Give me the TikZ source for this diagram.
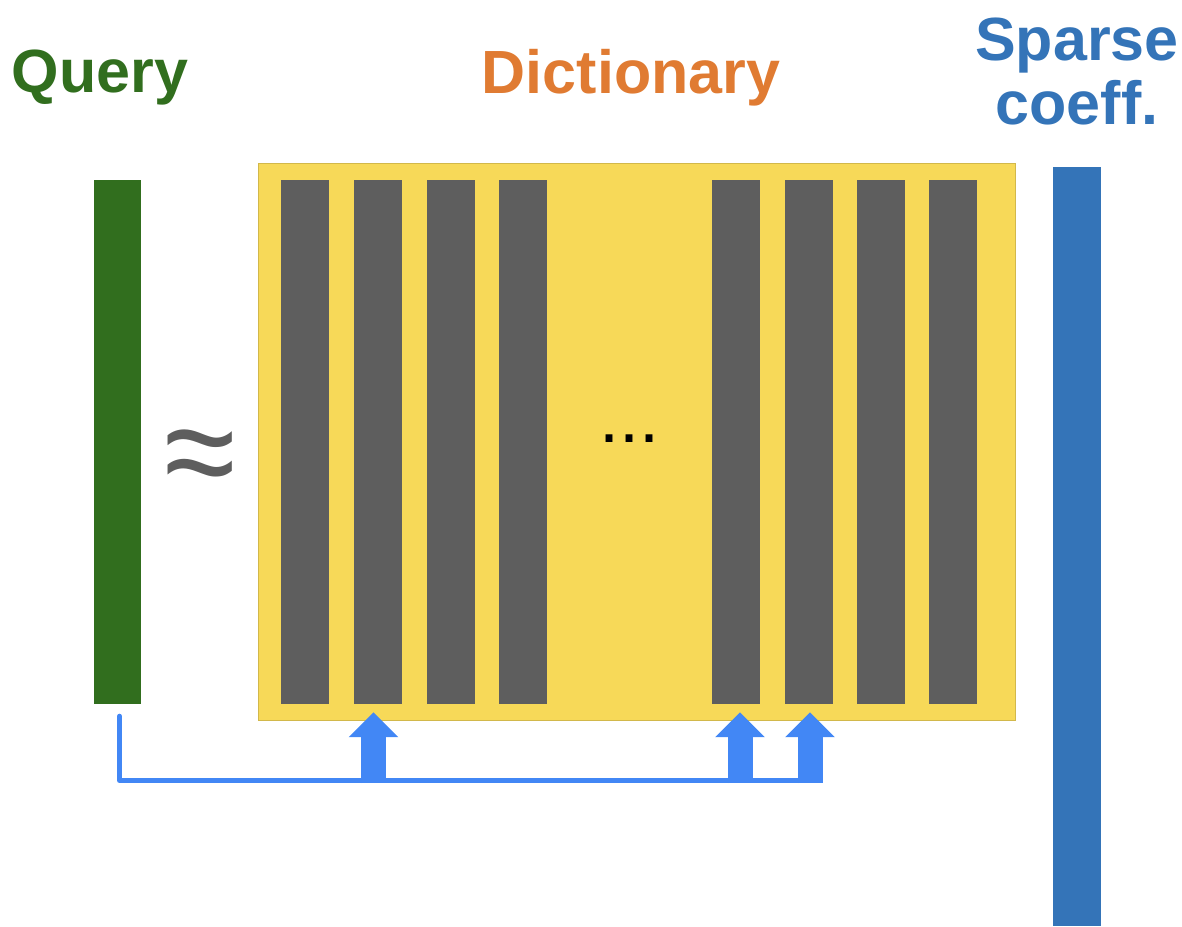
\documentclass[tikz,border=0pt]{standalone}
\usepackage{fontspec}
\setmainfont{Liberation Sans}
\usetikzlibrary{arrows.meta}

\definecolor{querygreen}{HTML}{316E1E}
\definecolor{dictorange}{HTML}{E07B32}
\definecolor{coeffblue}{HTML}{3474B8}
\definecolor{dictyellow}{HTML}{F7D958}
\definecolor{atomgray}{HTML}{5E5E5E}
\definecolor{linkblue}{HTML}{4287F5}

\tikzset{
  title/.style={font=\fontsize{61}{64}\selectfont\bfseries, inner sep=0pt},
  bar/.style={rectangle, inner sep=0pt, draw=none, minimum width=48pt},
  atom/.style={bar, fill=atomgray, minimum height=524pt},
  link/.style={draw=linkblue, line width=5pt, line cap=round, line join=round},
  pick/.style={draw=linkblue, line width=25pt, line cap=butt,
    -{Triangle[width=48pt,length=25pt]}},
}

\begin{document}
\begin{tikzpicture}[x=1pt,y=-1pt]
\useasboundingbox (0,0) rectangle (1182,926);

% titles
\node[title, text=querygreen, anchor=base] (tq) at (100,92) {Query};
\node[title, text=dictorange, anchor=base] (td) at (631,93) {Dictionary};
\node[title, text=coeffblue, anchor=north, align=center] (tc) at (1077,18) {Sparse\\coeff.};

% query vector
\node[bar, fill=querygreen, minimum width=47pt, minimum height=524pt] (q) at (117.5,442) {};

% approximately equal sign
\node[text=atomgray, inner sep=0pt, font=\fontsize{130}{130}\selectfont, yscale=1.1] (approx) at (200,465) {≈};

% dictionary matrix with its atoms
\node[bar, fill=dictyellow, draw=dictyellow!85!black, line width=0.5pt,
      minimum width=757pt, minimum height=557pt] (D) at (636.5,441.5) {};
\foreach \name/\x in {c1/305, c2/377.5, c3/450.5, c4/523, c5/736, c6/808.5, c7/881, c8/953}
  \node[atom] (\name) at (\x,442) {};
\node[inner sep=0pt, font=\fontsize{72}{72}\selectfont] (dots) at (629,439) {...};

% sparse coefficient vector
\node[bar, fill=coeffblue, minimum height=759pt] (s) at (1077,546.5) {};

% selection of atoms by the query
\coordinate (start) at ([xshift=2pt,yshift=-12pt]q.south);
\coordinate (base) at (0,780.5);
\draw[link] (start) |- ([xshift=1.5pt]c6.south |- base);
\draw[pick] ([xshift=-4pt]c2.south |- 0,783) -- ([xshift=-4pt,yshift=-8pt]c2.south);
\draw[pick] ([xshift=4pt]c5.south |- 0,783) -- ([xshift=4pt,yshift=-8pt]c5.south);
\draw[pick] ([xshift=1.5pt]c6.south |- 0,783) -- ([xshift=1.5pt,yshift=-8pt]c6.south);
\end{tikzpicture}
\end{document}
